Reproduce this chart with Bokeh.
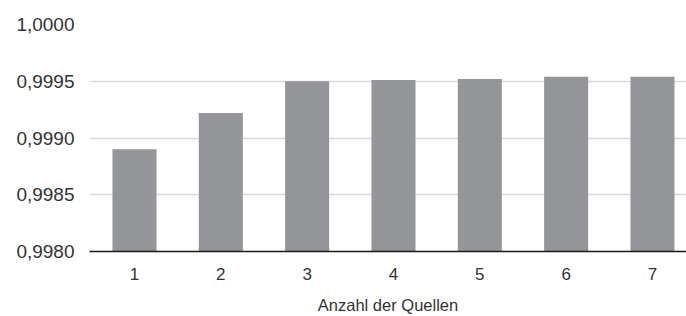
from bokeh.plotting import figure
from bokeh.models import Range1d, FixedTicker, CustomJSTickFormatter, ColumnDataSource
from bokeh.embed import file_html
from bokeh.resources import INLINE

categories = ["1", "2", "3", "4", "5", "6", "7"]
values = [0.99890, 0.99922, 0.99950, 0.99951, 0.99952, 0.99954, 0.99954]
y_ticks = [0.998, 0.9985, 0.999, 0.9995, 1.0]
x_title = "Anzahl der Quellen"

positions = [i + 1 for i in range(len(categories))]
source = ColumnDataSource(dict(x=positions, top=values, label=categories))

x_lo, x_hi = 0.479, 7.394
y_lo, y_hi = 0.998, 1.0

p = figure(width=686, height=316, output_backend="svg", toolbar_location=None,
           x_range=Range1d(x_lo, x_hi), y_range=Range1d(y_lo, y_hi),
           min_border_left=89, min_border_top=24, min_border_right=0, min_border_bottom=65)

p.vbar(x="x", top="top", bottom=y_lo, width=0.51, source=source,
       fill_color="#939598", line_color=None)

p.outline_line_color = None
p.background_fill_color = "white"
p.border_fill_color = "white"
p.xgrid.grid_line_color = None
p.ygrid.grid_line_color = "#d9d9d9"
p.ygrid.grid_line_width = 1.3

p.yaxis.ticker = FixedTicker(ticks=y_ticks)
p.yaxis.formatter = CustomJSTickFormatter(code="return tick.toFixed(4).replace('.', ',');")
p.yaxis.axis_line_color = None
p.yaxis.major_tick_line_color = None
p.yaxis.minor_tick_line_color = None
p.yaxis.major_label_standoff = 9
p.yaxis.major_label_text_font = "Liberation Sans"
p.yaxis.major_label_text_font_size = "19px"
p.yaxis.major_label_text_color = "#333333"

p.xaxis.ticker = FixedTicker(ticks=positions)
p.xaxis.major_label_overrides = {pos: lab for pos, lab in zip(positions, categories)}
p.xaxis.axis_line_color = "#1a1a1a"
p.xaxis.axis_line_width = 1.5
p.xaxis.major_tick_line_color = None
p.xaxis.minor_tick_line_color = None
p.xaxis.major_label_standoff = 10
p.xaxis.major_label_text_font = "Liberation Sans"
p.xaxis.major_label_text_font_size = "17px"
p.xaxis.major_label_text_color = "#333333"
p.xaxis.axis_label = x_title
p.xaxis.axis_label_text_font = "Liberation Sans"
p.xaxis.axis_label_text_font_size = "16.5px"
p.xaxis.axis_label_text_font_style = "normal"
p.xaxis.axis_label_text_color = "#333333"
p.xaxis.axis_label_standoff = 13

open("out.html", "w").write(file_html(p, INLINE))
